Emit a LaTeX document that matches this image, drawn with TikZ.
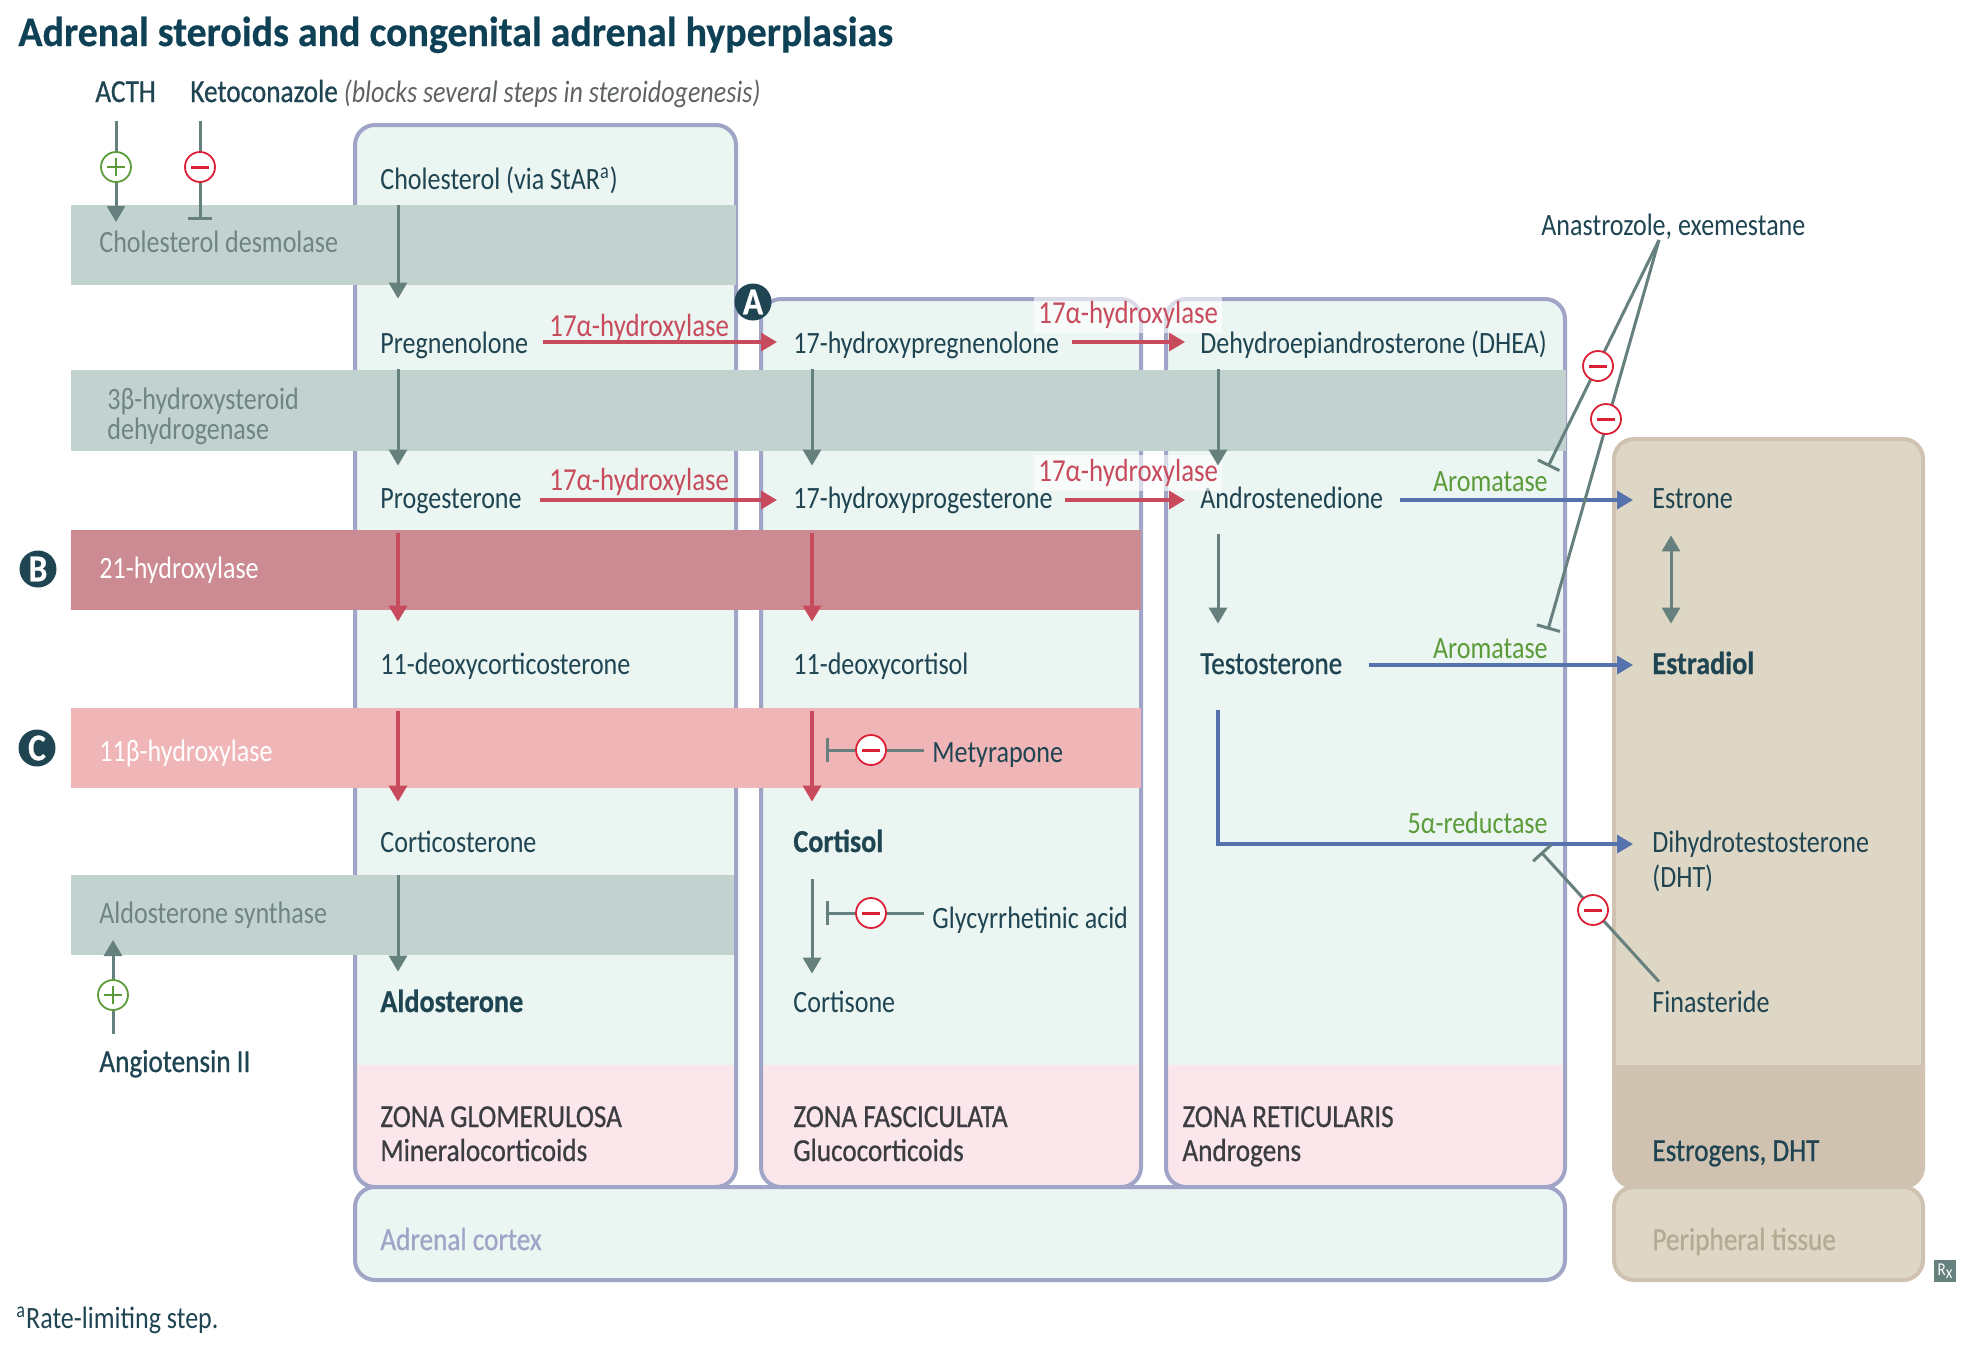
\documentclass[tikz,border=0pt]{standalone}
\usepackage{fontspec}
\setmainfont[FakeStretch=0.84]{Carlito}
\newfontfamily\medfont[FakeStretch=0.85,FakeBold=0.7]{Carlito}
\newfontfamily\heavyfont[FakeStretch=0.88,FakeBold=0.5]{Carlito}
\newfontfamily\titlefont[FakeStretch=0.95,FakeBold=0.5]{Carlito}
\usetikzlibrary{calc, arrows.meta}
\definecolor{inkblue}{HTML}{1F4452}
\definecolor{titleblue}{HTML}{0E4056}
\definecolor{cortexfill}{HTML}{EBF5F1}
\definecolor{cortexline}{HTML}{A0A5C8}
\definecolor{zonepink}{HTML}{FBE6EB}
\definecolor{zoneink}{HTML}{3B3D42}
\definecolor{tanfill}{HTML}{DFD7C5}
\definecolor{tanbase}{HTML}{CFC2B1}
\definecolor{tanink}{HTML}{B5AB95}
\definecolor{bandgray}{HTML}{C2D2CE}
\definecolor{bandink}{HTML}{6F8583}
\definecolor{bandrose}{HTML}{CC8A93}
\definecolor{bandblush}{HTML}{EFB5B7}
\definecolor{stepgray}{HTML}{66807D}
\definecolor{stepred}{HTML}{C74B5C}
\definecolor{stepblue}{HTML}{5572AC}
\definecolor{leafgreen}{HTML}{5B9B3A}
\definecolor{minusred}{HTML}{DB1F35}
\definecolor{notegray}{HTML}{5F6263}
\newcommand{\bodyfont}{\fontsize{15.5pt}{15pt}\selectfont}
\newcommand{\medtext}{\medfont\fontsize{16pt}{16pt}\selectfont}
\newcommand{\heavytext}{\heavyfont\bfseries\fontsize{16pt}{16pt}\selectfont}
\tikzset{
    >={Triangle[length=8pt,width=9pt]},
    every node/.style={font=\bodyfont, text=inkblue, inner sep=0pt},
    txt/.style={anchor=base west, text height=11pt, text depth=0pt},
    txtlow/.style={txt, text height=8pt},
    txtmid/.style={txt, text height=9pt},
    txtright/.style={anchor=base east, text height=11pt, text depth=0pt},
    multiline/.style={anchor=base west, align=left},
    band/.style={anchor=west, minimum height=40pt, fill=bandgray},
    graystep/.style={->, draw=stepgray, line width=1.5pt},
    redstep/.style={->, draw=stepred, line width=1.7pt},
    bluestep/.style={->, draw=stepblue, line width=1.7pt},
    blockline/.style={-{Bar[width=12pt,line width=1.5pt]}, draw=stepgray, line width=1.5pt},
    enzymered/.style={txt, text=stepred, font=\fontsize{16pt}{16pt}\selectfont},
    enzymegreen/.style={txtright, text=leafgreen},
    minusmark/.style={circle, draw=minusred, fill=white, line width=.9pt, minimum size=15pt,
        path picture={\draw[minusred, line width=1.5pt]
            ([xshift=-4.5pt]path picture bounding box.center) -- ([xshift=4.5pt]path picture bounding box.center);}},
    plusmark/.style={circle, draw=leafgreen, fill=white, line width=.9pt, minimum size=15pt,
        path picture={\draw[leafgreen, line width=1.1pt]
            ([xshift=-4.5pt]path picture bounding box.center) -- ([xshift=4.5pt]path picture bounding box.center)
            ([yshift=-4.5pt]path picture bounding box.center) -- ([yshift=4.5pt]path picture bounding box.center);}},
    badge/.style={circle, fill=inkblue, text=white, minimum size=18.5pt, font=\heavyfont\bfseries\fontsize{19pt}{19pt}\selectfont}
}

\begin{document}
\begin{tikzpicture}[x=0.5pt, y=-0.5pt]
    \useasboundingbox (0,0) rectangle (1970,1350);

    % zone boxes
    \foreach \xa/\ya/\xb in {355/125/736, 761/299/1141, 1166/299/1565}{
        \fill[cortexfill, rounded corners=10pt] (\xa,\ya) rectangle (\xb,1187);
        \fill[zonepink] (\xa,1065) -- (\xb,1065) [rounded corners=10pt] -- (\xb,1187) -- (\xa,1187) [sharp corners] -- cycle;
        \draw[cortexline, line width=2pt, rounded corners=10pt] (\xa,\ya) rectangle (\xb,1187);
    }
    \fill[tanfill, rounded corners=10pt] (1614,439) rectangle (1923,1187);
    \fill[tanbase] (1614,1065) -- (1923,1065) [rounded corners=10pt] -- (1923,1187) -- (1614,1187) [sharp corners] -- cycle;
    \draw[tanbase, line width=2pt, rounded corners=10pt] (1614,439) rectangle (1923,1187);
    \draw[cortexline, fill=cortexfill, line width=2pt, rounded corners=10pt] (355,1187) rectangle (1565,1280);
    \draw[tanbase, fill=tanfill, line width=2pt, rounded corners=10pt] (1614,1187) rectangle (1923,1280);

    % enzyme bands
    \node[band, minimum width=332.5pt] (desmolase) at (71,245) {};
    \node[band, minimum width=747.5pt, minimum height=40.5pt] (hsd) at (71,410) {};
    \node[band, minimum width=535pt, fill=bandrose] (hydA) at (71,570) {};
    \node[band, minimum width=535pt, fill=bandblush] (hydB) at (71,748) {};
    \node[band, minimum width=331.5pt] (aldosyn) at (71,915) {};
    \node[txt, text=bandink] (desmolasetext) at (99,252) {Cholesterol desmolase};
    \node[multiline, text=bandink] (hsdtext) at (107,439) {3β-hydroxysteroid\\dehydrogenase};
    \node[txt, text=white] (hydAtext) at (99,578) {21-hydroxylase};
    \node[txt, text=white] (hydBtext) at (99,761) {11β-hydroxylase};
    \node[txt, text=bandink] (aldosyntext) at (99,923) {Aldosterone synthase};

    \node[txt, font=\titlefont\bfseries\fontsize{21pt}{21pt}\selectfont, text=titleblue] (title) at (18,46) {Adrenal steroids and congenital adrenal hyperplasias};
    \node[txt, font=\medtext] (acth) at (95,102) {ACTH};
    \node[txt, font=\medtext] (keto) at (190,102) {Ketoconazole {\normalfont\itshape\bodyfont\color{notegray}(blocks several steps in steroidogenesis)}};
    \node[txt] (anastrozole) at (1541,235) {Anastrozole, exemestane};

    % steroids
    \node[txt] (cholesterol) at (380,189) {Cholesterol (via StAR\textsuperscript{a})};
    \node[txt] (pregnenolone) at (380,353) {Pregnenolone};
    \node[txtlow] (progesterone) at (380,508) {Progesterone};
    \node[txt] (deoxycorticosterone) at (380,674) {11-deoxycorticosterone};
    \node[txt] (corticosterone) at (380,852) {Corticosterone};
    \node[txt, font=\heavytext] (aldosterone) at (380,1012) {Aldosterone};
    \node[txt] (hpreg) at (793,353) {17-hydroxypregnenolone};
    \node[txtlow] (hprog) at (793,508) {17-hydroxyprogesterone};
    \node[txt] (deoxycortisol) at (793,674) {11-deoxycortisol};
    \node[txt, font=\heavytext] (cortisol) at (793,852) {Cortisol};
    \node[txt] (cortisone) at (793,1012) {Cortisone};
    \node[txt] (dhea) at (1200,353) {Dehydroepiandrosterone (DHEA)};
    \node[txtlow] (androstenedione) at (1200,508) {Androstenedione};
    \node[txtmid, font=\medtext] (testosterone) at (1200,674) {Testosterone};
    \node[txtlow] (estrone) at (1652,508) {Estrone};
    \node[txtmid, font=\heavytext] (estradiol) at (1652,674) {Estradiol};
    \node[multiline] (dht) at (1652,887) {Dihydrotestosterone\\[2.5pt](DHT)};
    \node[txt] (finasteride) at (1652,1012) {Finasteride};
    \node[txt, text height=12pt] (metyrapone) at (932,762) {Metyrapone};
    \node[txt, text height=15pt] (glycyrrhetinic) at (932,928) {Glycyrrhetinic acid};
    \node[txt, font=\medtext] (angiotensin) at (99,1072) {Angiotensin II};

    % zone labels
    \node[multiline, font=\medtext, text=zoneink] (glomerulosa) at (380,1161) {ZONA GLOMERULOSA\\[1pt]Mineralocorticoids};
    \node[multiline, font=\medtext, text=zoneink] (fasciculata) at (793,1161) {ZONA FASCICULATA\\[1pt]Glucocorticoids};
    \node[multiline, font=\medtext, text=zoneink] (reticularis) at (1182,1161) {ZONA RETICULARIS\\[1pt]Androgens};
    \node[txt, font=\medtext] (targets) at (1652,1161) {Estrogens, DHT};
    \node[txt, font=\medtext, text=cortexline] (cortex) at (380,1250) {Adrenal cortex};
    \node[txt, font=\medtext, text=tanink] (peripheral) at (1652,1250) {Peripheral tissue};
    \node[txt] (footnote) at (16,1328) {\textsuperscript{a}Rate-limiting step.};

    % enzyme labels
    \node[enzymered] (hydCa) at (549,336) {17α-hydroxylase};
    \node[enzymered] (hydCb) at (549,490) {17α-hydroxylase};
    \node[enzymered, inner sep=2pt, text depth=3pt, fill=white, fill opacity=.6, text opacity=1] (hydDa) at (1034,323) {17α-hydroxylase};
    \node[enzymered, inner sep=2pt, text depth=3pt, fill=white, fill opacity=.6, text opacity=1] (hydDb) at (1034,481) {17α-hydroxylase};
    \node[enzymegreen] (aromataseA) at (1548,491) {Aromatase};
    \node[enzymegreen] (aromataseB) at (1548,658) {Aromatase};
    \node[enzymegreen] (reductase) at (1548,833) {5α-reductase};

    % columns of the vertical arrows
    \coordinate (colg) at (398,0);
    \coordinate (colf) at (812,0);
    \coordinate (colr) at (1218,0);
    \coordinate (colp) at (1671,0);

    \foreach \col/\from/\to/\gap in {colg/desmolase/pregnenolone/16pt, colg/hsd/progesterone/13pt,
        colf/hsd/hprog/13pt, colr/hsd/androstenedione/13pt, colg/aldosyn/aldosterone/9pt}{
        \draw[graystep, shorten >=\gap] (\col |- \from.north) -- (\col |- \to.north);
    }
    \foreach \col/\from/\to/\gap in {colg/hydA/deoxycorticosterone/15pt, colf/hydA/deoxycortisol/15pt,
        colg/hydB/corticosterone/14pt, colf/hydB/cortisol/14pt}{
        \draw[redstep, shorten >=\gap, shorten <=1.5pt] (\col |- \from.north) -- (\col |- \to.north);
    }
    \draw[graystep, shorten <=13pt, shorten >=16pt] (colr |- androstenedione.south) -- (colr |- testosterone.north);
    \draw[graystep, shorten <=13.5pt, shorten >=8pt] (colf |- cortisol.south) -- (colf |- cortisone.north);
    \draw[graystep, <->, shorten <=13.5pt, shorten >=16pt] (colp |- estrone.south) -- (colp |- estradiol.north);

    % horizontal steps
    \draw[redstep, shorten <=7pt, shorten >=8pt] (pregnenolone.east) -- (hpreg.west);
    \draw[redstep, shorten <=9pt, shorten >=8pt] (progesterone.east) -- (hprog.west);
    \draw[redstep, shorten <=6pt, shorten >=7.5pt] (hpreg.east) -- (dhea.west);
    \draw[redstep, shorten <=6pt, shorten >=7.5pt] (hprog.east) -- (androstenedione.west);
    \draw[bluestep, shorten <=8pt, shorten >=9.5pt] (androstenedione.east) -- (estrone.west);
    \draw[bluestep, shorten <=13pt, shorten >=9.5pt] (testosterone.east) -- (estradiol.west);
    \draw[bluestep, shorten <=18pt] (colr |- testosterone.south) |- ([shift={(-9.5pt,-7pt)}]dht.north west);

    % regulators
    \coordinate (acthtip) at (116,222);
    \coordinate (ketobar) at (200,220);
    \coordinate (angiotip) at (113,940);
    \coordinate (finabar) at (1541,852);
    \coordinate (anaroot) at (1659,240);
    \coordinate (barmety) at (826,750);
    \coordinate (barglyc) at (826,913);

    \draw[graystep, shorten <=9.5pt] (acth.south -| acthtip) -- (acthtip);
    \draw[blockline, shorten <=9.5pt] (keto.south -| ketobar) -- (ketobar);
    \draw[graystep, shorten <=8pt] (angiotensin.north -| angiotip) -- (angiotip);
    \draw[blockline] (anaroot) -- ([yshift=1pt]aromataseA.north east);
    \draw[blockline] (anaroot) -- ([yshift=3pt]aromataseB.north east);
    \draw[blockline] ([xshift=3.5pt,yshift=4pt]finasteride.north west) -- (finabar);
    \draw[blockline, shorten <=4pt] (metyrapone.west) -- (barmety);
    \draw[blockline, shorten <=4pt] (glycyrrhetinic.west) -- (barglyc);

    \node[plusmark] (plusacth) at (116,167) {};
    \node[minusmark] (minusketo) at (200,167) {};
    \node[plusmark] (plusangio) at (113,995) {};
    \node[minusmark] (minusanaA) at (1598,366) {};
    \node[minusmark] (minusanaB) at (1606,419) {};
    \node[minusmark] (minusfina) at (1593,910) {};
    \node[minusmark] (minusmety) at (871,750) {};
    \node[minusmark] (minusglyc) at (871,913) {};

    \node[badge] (badgeA) at (753,302) {A};
    \node[badge] (badgeB) at (38,569) {B};
    \node[badge] (badgeC) at (37,748) {C};
    \node[fill=stepgray, text=white, minimum size=11pt, font=\fontsize{9pt}{9pt}\selectfont] (rxmark) at (1945,1271) {R\raisebox{-1.5pt}{x}};
\end{tikzpicture}
\end{document}
